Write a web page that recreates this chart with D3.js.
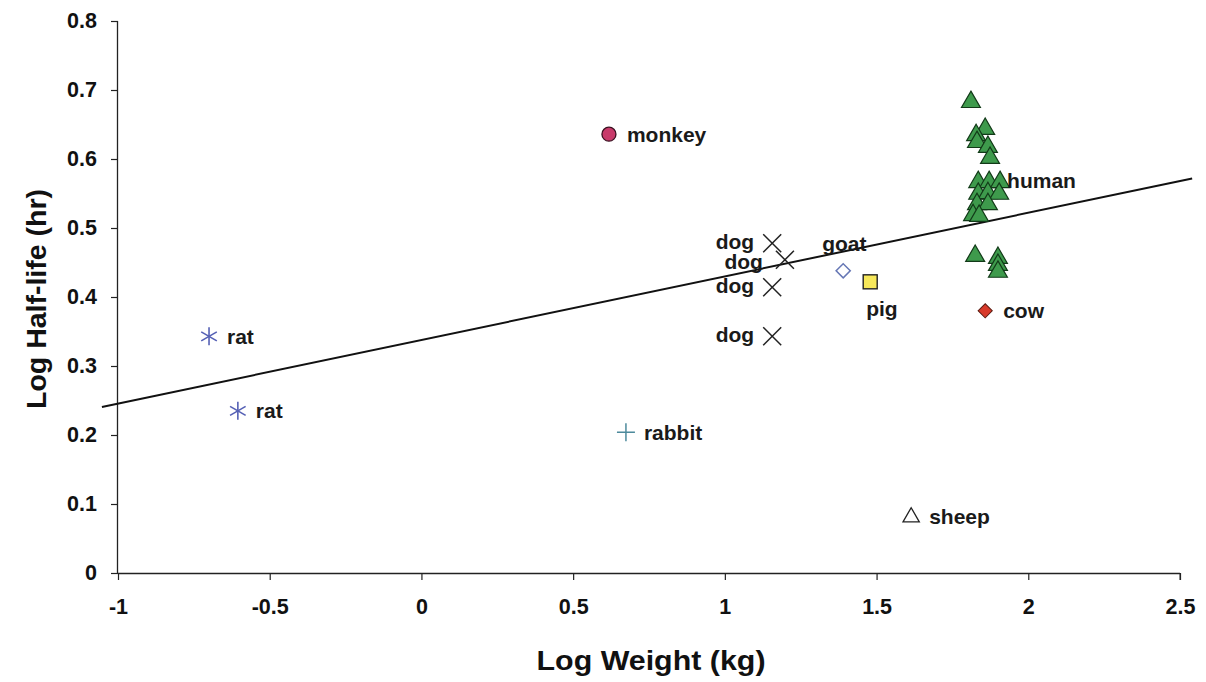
<!DOCTYPE html>
<html><head><meta charset="utf-8">
<script src="https://cdn.jsdelivr.net/npm/d3@7"></script>
<style>body{margin:0;background:#fff}svg{display:block}text{font-family:"Liberation Sans",Arial,sans-serif;font-weight:bold}</style>
</head><body><svg id="c" width="1206" height="682"></svg>
<script>
const xTicks = [-1, -0.5, 0, 0.5, 1, 1.5, 2, 2.5];
const xTickLabels = ["-1", "-0.5", "0", "0.5", "1", "1.5", "2", "2.5"];
const yTicks = [0, 0.1, 0.2, 0.3, 0.4, 0.5, 0.6, 0.7, 0.8];
const yTickLabels = ["0", "0.1", "0.2", "0.3", "0.4", "0.5", "0.6", "0.7", "0.8"];

const monkey = [[0.618, 0.636]];
const rat = [[-0.70, 0.343], [-0.605, 0.235]];
const rabbit = [[0.674, 0.204]];
const dog = [[1.156, 0.478], [1.198, 0.454], [1.156, 0.414], [1.156, 0.343]];
const goat = [[1.39, 0.438]];
const pig = [[1.479, 0.422]];
const cow = [[1.858, 0.380]];
const sheep = [[1.614, 0.081]];
const human = [
  [1.811, 0.684], [1.858, 0.645], [1.828, 0.636], [1.831, 0.626], [1.867, 0.619],
  [1.874, 0.603], [1.835, 0.568], [1.871, 0.568], [1.907, 0.568], [1.835, 0.551],
  [1.867, 0.552], [1.904, 0.551], [1.831, 0.536], [1.867, 0.536], [1.818, 0.520],
  [1.838, 0.519], [1.825, 0.461], [1.900, 0.458], [1.900, 0.448], [1.900, 0.438]
];
const trendX = [-1.053, 2.54];
const trendSlope = 0.0922;
const trendIntercept = 0.3377;

// label text, point it refers to, placement keyword
const labels = [
  ["monkey", 0.618, 0.636, "right"],
  ["rat", -0.70, 0.343, "right"],
  ["rat", -0.605, 0.235, "right"],
  ["rabbit", 0.674, 0.204, "right"],
  ["dog", 1.156, 0.478, "left"],
  ["dog", 1.198, 0.454, "left2"],
  ["dog", 1.156, 0.414, "left"],
  ["dog", 1.156, 0.343, "left"],
  ["goat", 1.39, 0.438, "aboveleft"],
  ["pig", 1.479, 0.422, "below"],
  ["cow", 1.858, 0.380, "right"],
  ["sheep", 1.614, 0.081, "right"],
  ["human", 1.907, 0.568, "near"]
];

const svg = d3.select("#c");
const x = d3.scaleLinear().domain([-1, 2.5]).range([118, 1180]);
const y = d3.scaleLinear().domain([0, 0.8]).range([573, 21]);

// axes
const xAxis = svg.append("g").attr("transform", `translate(0,${y(0)})`)
  .call(d3.axisBottom(x).tickValues(xTicks).tickSize(7).tickPadding(19)
    .tickFormat((d, i) => xTickLabels[i]));
const yAxis = svg.append("g").attr("transform", `translate(${x(-1)},0)`)
  .call(d3.axisLeft(y).tickValues(yTicks).tickSize(7).tickPadding(14)
    .tickFormat((d, i) => yTickLabels[i]));
[xAxis, yAxis].forEach(a => {
  a.select(".domain").attr("stroke", "#222").attr("stroke-width", 1.3);
  a.selectAll(".tick line").attr("stroke", "#222").attr("stroke-width", 1.2);
  a.selectAll(".tick text").attr("font-size", 21.5).attr("fill", "#111")
    .attr("font-family", "'Liberation Sans',Arial,sans-serif").attr("font-weight", "bold");
});
xAxis.select(".domain").attr("d", `M${x(-1)},0.5H${x(2.5)}`);
xAxis.append("line").attr("x1", x(2.5)).attr("x2", x(2.5)).attr("y1", 0).attr("y2", 7).attr("stroke", "#222");
yAxis.select(".domain").attr("d", `M-0.5,${y(0)}V${y(0.8)}`);

svg.append("text").attr("x", 651).attr("y", 670).attr("text-anchor", "middle")
  .attr("font-size", 28).attr("textLength", 229).attr("lengthAdjust", "spacingAndGlyphs")
  .attr("fill", "#111").text("Log Weight (kg)");
svg.append("text").attr("transform", `translate(46,${y(0.4) + 2}) rotate(-90)`)
  .attr("text-anchor", "middle").attr("font-size", 28).attr("textLength", 220).attr("lengthAdjust", "spacingAndGlyphs")
  .attr("fill", "#111").text("Log Half-life (hr)");

// trend line
svg.append("line")
  .attr("x1", x(trendX[0])).attr("y1", y(trendIntercept + trendSlope * trendX[0]))
  .attr("x2", x(trendX[1])).attr("y2", y(trendIntercept + trendSlope * trendX[1]))
  .attr("stroke", "#111").attr("stroke-width", 2);

const g = svg.append("g");
function place(data) { return g.selectAll(null).data(data).enter().append("g")
  .attr("transform", d => `translate(${x(d[0])},${y(d[1])})`); }

// human triangles
const tri = d3.symbol().type(d3.symbolTriangle).size(155);
place(human).append("path").attr("d", tri()).attr("transform", "translate(0,1)")
  .attr("fill", "#3e9a4c").attr("stroke", "#123a18").attr("stroke-width", 1.2);
// sheep
place(sheep).append("path").attr("d", d3.symbol().type(d3.symbolTriangle).size(115)())
  .attr("fill", "none").attr("stroke", "#222").attr("stroke-width", 1.3);
// monkey
place(monkey).append("circle").attr("r", 7).attr("fill", "#c83a6a").attr("stroke", "#3a1020").attr("stroke-width", 1.3);
// rat asterisk
const rg = place(rat);
[0, 60, 120].forEach(a => rg.append("line").attr("x1", 0).attr("y1", -9).attr("x2", 0).attr("y2", 9)
  .attr("transform", `rotate(${a})`).attr("stroke", "#5560b5").attr("stroke-width", 1.6));
// rabbit plus
const pg = place(rabbit);
pg.append("line").attr("x1", -9).attr("x2", 9).attr("y1", 0).attr("y2", 0).attr("stroke", "#4d8a9c").attr("stroke-width", 1.5);
pg.append("line").attr("y1", -9).attr("y2", 9).attr("x1", 0).attr("x2", 0).attr("stroke", "#4d8a9c").attr("stroke-width", 1.5);
// dog X
const dg = place(dog);
dg.append("line").attr("x1", -9).attr("y1", -9).attr("x2", 9).attr("y2", 9).attr("stroke", "#222").attr("stroke-width", 1.5);
dg.append("line").attr("x1", -9).attr("y1", 9).attr("x2", 9).attr("y2", -9).attr("stroke", "#222").attr("stroke-width", 1.5);
// goat diamond
place(goat).append("rect").attr("x", -5).attr("y", -5).attr("width", 10).attr("height", 10)
  .attr("transform", "rotate(45)").attr("fill", "#fff").attr("stroke", "#6677b5").attr("stroke-width", 1.5);
// pig square
place(pig).append("rect").attr("x", -7).attr("y", -7).attr("width", 14).attr("height", 14)
  .attr("fill", "#f7e85a").attr("stroke", "#222").attr("stroke-width", 1.4);
// cow diamond
place(cow).append("rect").attr("x", -5).attr("y", -5).attr("width", 10).attr("height", 10)
  .attr("transform", "rotate(45)").attr("fill", "#d83a2a").attr("stroke", "#5a1a10").attr("stroke-width", 1);

// labels
const offs = { right: [18, 0, "start"], left: [-18, -2, "end"], left2: [-22, 2, "end"],
  aboveleft: [-21, -27, "start"], below: [-4, 27, "start"], near: [7, 0, "start"] };
g.selectAll(null).data(labels).enter().append("text")
  .attr("x", d => x(d[1]) + offs[d[3]][0])
  .attr("y", d => y(d[2]) + offs[d[3]][1])
  .attr("dy", "0.35em").attr("text-anchor", d => offs[d[3]][2])
  .attr("font-size", 21).attr("fill", "#1a1a1a").text(d => d[0]);
</script></body></html>
